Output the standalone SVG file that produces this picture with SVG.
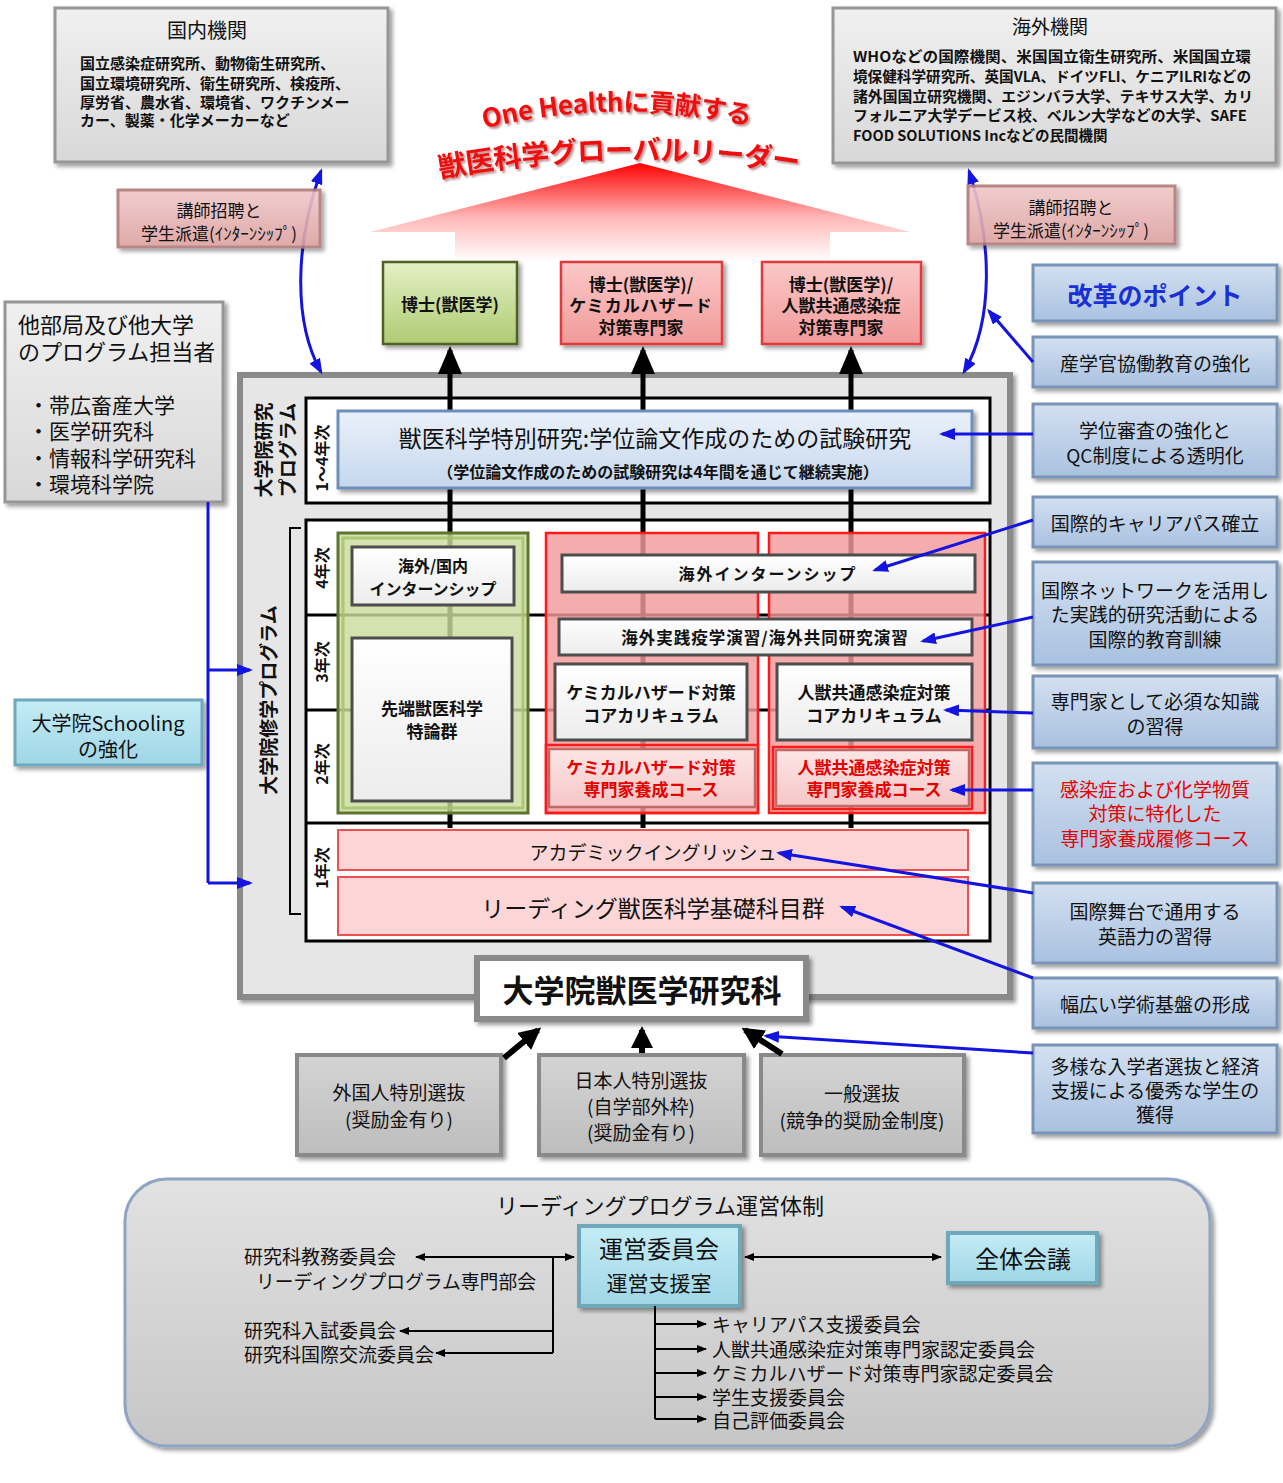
<svg xmlns="http://www.w3.org/2000/svg" width="1283" height="1483" viewBox="0 0 1283 1483">
<defs>
<style>
text { font-family: "Noto Sans CJK JP", "Noto Sans", sans-serif; dominant-baseline: central; text-anchor: middle; fill: #111; }
.b { font-weight: 700; }
.st { text-anchor: start; }
.gray { fill: url(#gGray); stroke: #969696; stroke-width: 3; filter: url(#sh); }
.sel { fill: url(#gSel); stroke: #8a8a8a; stroke-width: 4; filter: url(#sh); }
.inv { fill: url(#gInv); stroke: #b27a7a; stroke-width: 3; opacity: 0.9; filter: url(#sh); }
.rbox { fill: url(#gBlue); stroke: #7a94b6; stroke-width: 3; filter: url(#sh); }
.cyan { fill: url(#gCyan); stroke: #6fa8bb; stroke-width: 4; filter: url(#sh); }
.wbox { fill: url(#gWhite); stroke: #4d4d4d; stroke-width: 3; }
.pbox { fill: url(#gPinkL); stroke: #c06868; stroke-width: 2.5; }
.rcol { fill: #f29a9a; fill-opacity: 0.82; stroke: #ff1a1a; stroke-width: 2.5; }
.frame { fill: #ffffff; stroke: #000; stroke-width: 3; }
.div { stroke: #000; stroke-width: 3; }
.blue { stroke: #1414e0; stroke-width: 3; fill: none; }
.thin { stroke: #000; stroke-width: 2; fill: none; }
.rt { font-size: 19px; }
.lt { font-size: 19px; }
.sl { font-size: 19px; }
.red { fill: #e60000; }
</style>
<filter id="sh" x="-10%" y="-10%" width="125%" height="130%">
<feDropShadow dx="3" dy="3" stdDeviation="2" flood-color="#000" flood-opacity="0.4"/>
</filter>
<filter id="tsh" x="-10%" y="-20%" width="120%" height="150%">
<feDropShadow dx="2" dy="2" stdDeviation="1.2" flood-color="#600" flood-opacity="0.45"/>
</filter>
<linearGradient id="gGray" x1="0" y1="0" x2="0" y2="1"><stop offset="0" stop-color="#f0f0f0"/><stop offset="1" stop-color="#d8d8d8"/></linearGradient>
<linearGradient id="gSel" x1="0" y1="0" x2="0" y2="1"><stop offset="0" stop-color="#d4d4d4"/><stop offset="1" stop-color="#bdbdbd"/></linearGradient>
<linearGradient id="gInv" x1="0" y1="0" x2="0" y2="1"><stop offset="0" stop-color="#f0c8c8"/><stop offset="1" stop-color="#dca0a0"/></linearGradient>
<linearGradient id="gBlue" x1="0" y1="0" x2="0" y2="1"><stop offset="0" stop-color="#d3e0f1"/><stop offset="1" stop-color="#a9c1e0"/></linearGradient>
<linearGradient id="gCyan" x1="0" y1="0" x2="0" y2="1"><stop offset="0" stop-color="#c4ecf5"/><stop offset="1" stop-color="#9fd6e6"/></linearGradient>
<linearGradient id="gWhite" x1="0" y1="0" x2="0" y2="1"><stop offset="0" stop-color="#ffffff"/><stop offset="1" stop-color="#ececec"/></linearGradient>
<linearGradient id="gPinkL" x1="0" y1="0" x2="0" y2="1"><stop offset="0" stop-color="#fde6e6"/><stop offset="1" stop-color="#f6c6c6"/></linearGradient>
<linearGradient id="gGreenB" x1="0" y1="0" x2="0" y2="1"><stop offset="0" stop-color="#e4f0c6"/><stop offset="1" stop-color="#aecb72"/></linearGradient>
<linearGradient id="gRedB" x1="0" y1="0" x2="0" y2="1"><stop offset="0" stop-color="#fbc8c8"/><stop offset="1" stop-color="#f29a9a"/></linearGradient>
<linearGradient id="gLight" x1="0" y1="0" x2="0" y2="1"><stop offset="0" stop-color="#eaf1fa"/><stop offset="1" stop-color="#c5d7ee"/></linearGradient>
<linearGradient id="gBottom" x1="0" y1="0" x2="0" y2="1"><stop offset="0" stop-color="#e2e2e2"/><stop offset="1" stop-color="#c6c6c6"/></linearGradient>
<linearGradient id="gArrow" gradientUnits="userSpaceOnUse" x1="0" y1="163" x2="0" y2="262"><stop offset="0" stop-color="#ff0000"/><stop offset="0.55" stop-color="#ffb8b8"/><stop offset="1" stop-color="#ffffff"/></linearGradient>
<marker id="ab" viewBox="0 0 16 12" refX="13" refY="6" markerWidth="16" markerHeight="12" markerUnits="userSpaceOnUse" orient="auto-start-reverse"><path d="M0,0 L16,6 L0,12 z" fill="#1414e0"/></marker>
<marker id="ak" viewBox="0 0 10 8" refX="9" refY="4" markerWidth="10" markerHeight="8" markerUnits="userSpaceOnUse" orient="auto-start-reverse"><path d="M0,0 L10,4 L0,8 z" fill="#000"/></marker>
<marker id="abig" viewBox="0 0 28 24" refX="24" refY="12" markerWidth="28" markerHeight="24" markerUnits="userSpaceOnUse" orient="auto"><path d="M0,0 L28,12 L0,24 z" fill="#000"/></marker>
<marker id="amid" viewBox="0 0 22 22" refX="18" refY="11" markerWidth="22" markerHeight="22" markerUnits="userSpaceOnUse" orient="auto"><path d="M0,0 L22,11 L0,22 z" fill="#000"/></marker>
<path id="arc1" d="M 466 121 Q 617 80 768 117"/>
<path id="arc2" d="M 434 167 Q 618 132 804 161"/>
</defs>

<rect width="1283" height="1483" fill="#ffffff"/>

<!-- Title -->
<g id="title">
<polygon points="640,163 910,232 830,232 830,262 455,262 455,232 370,232" fill="url(#gArrow)"/>
<text class="b" font-size="26" style="fill:#f01010" filter="url(#tsh)"><textPath href="#arc1" startOffset="50%">One Healthに貢献する</textPath></text>
<text class="b" font-size="28" style="fill:#f01010" filter="url(#tsh)"><textPath href="#arc2" startOffset="50%">獣医科学グローバルリーダー</textPath></text>
</g>

<!-- 国内機関 -->
<g id="node-kokunai">
<rect class="gray" x="55" y="8" width="333" height="154"/>
<text x="207" y="29" font-size="20">国内機関</text>
<text class="st b" x="80" y="62" font-size="15">国立感染症研究所、動物衛生研究所、</text>
<text class="st b" x="80" y="82" font-size="15">国立環境研究所、衛生研究所、検疫所、</text>
<text class="st b" x="80" y="101" font-size="15">厚労省、農水省、環境省、ワクチンメー</text>
<text class="st b" x="80" y="119" font-size="15">カー、製薬・化学メーカーなど</text>
</g>

<!-- 海外機関 -->
<g id="node-kaigai">
<rect class="gray" x="833" y="8" width="443" height="155"/>
<text x="1050" y="25" font-size="19">海外機関</text>
<text class="st b" x="853" y="55" font-size="14.5" textLength="398" lengthAdjust="spacingAndGlyphs">WHOなどの国際機関、米国国立衛生研究所、米国国立環</text>
<text class="st b" x="853" y="75" font-size="14.5" textLength="398" lengthAdjust="spacingAndGlyphs">境保健科学研究所、英国VLA、ドイツFLI、ケニアILRIなどの</text>
<text class="st b" x="853" y="95" font-size="14.5" textLength="400" lengthAdjust="spacingAndGlyphs">諸外国国立研究機関、エジンバラ大学、テキサス大学、カリ</text>
<text class="st b" x="853" y="114" font-size="14.5" textLength="394" lengthAdjust="spacingAndGlyphs">フォルニア大学デービス校、ベルン大学などの大学、SAFE</text>
<text class="st b" x="853" y="134" font-size="14.5">FOOD SOLUTIONS Incなどの民間機関</text>
</g>

<!-- 他部局 -->
<g id="node-tabukyoku">
<rect class="gray" x="5" y="302" width="218" height="200"/>
<text class="st" x="18" y="323" font-size="22">他部局及び他大学</text>
<text class="st" x="18" y="350" font-size="22">のプログラム担当者</text>
<text class="st" x="28" y="404" font-size="21">・帯広畜産大学</text>
<text class="st" x="28" y="430" font-size="21">・医学研究科</text>
<text class="st" x="28" y="457" font-size="21">・情報科学研究科</text>
<text class="st" x="28" y="483" font-size="21">・環境科学院</text>
</g>

<!-- Schooling -->
<g id="node-schooling">
<rect class="cyan" x="15" y="700" width="187" height="65" style="stroke-width:3"/>
<text x="108" y="722" font-size="20">大学院Schooling</text>
<text x="108" y="748" font-size="20">の強化</text>
</g>

<!-- 博士 boxes -->
<g id="node-hakase1">
<rect x="383" y="262" width="134" height="82" fill="url(#gGreenB)" stroke="#4f6228" stroke-width="2.5" filter="url(#sh)"/>
<text class="b" x="450" y="303" font-size="17">博士(獣医学)</text>
</g>
<g id="node-hakase2">
<rect x="561" y="262" width="161" height="82" fill="url(#gRedB)" stroke="#e03a3a" stroke-width="2.5" filter="url(#sh)"/>
<text class="b" x="641" y="283" font-size="17">博士(獣医学)/</text>
<text class="b" x="641" y="304" font-size="17" letter-spacing="1">ケミカルハザード</text>
<text class="b" x="641" y="326" font-size="17">対策専門家</text>
</g>
<g id="node-hakase3">
<rect x="762" y="262" width="159" height="82" fill="url(#gRedB)" stroke="#e03a3a" stroke-width="2.5" filter="url(#sh)"/>
<text class="b" x="841" y="283" font-size="17">博士(獣医学)/</text>
<text class="b" x="841" y="304" font-size="17">人獣共通感染症</text>
<text class="b" x="841" y="326" font-size="17">対策専門家</text>
</g>

<!-- Big gray program box -->
<g id="node-program">
<rect x="240" y="375" width="770" height="622" fill="#e6e6e6" stroke="#8a8a8a" stroke-width="6" filter="url(#sh)"/>
<rect class="frame" x="306" y="398" width="684" height="105"/>
<rect class="frame" x="306" y="520" width="684" height="421"/>
<line class="div" x1="306" y1="615" x2="990" y2="615"/>
<line class="div" x1="306" y1="710" x2="990" y2="710"/>
<line class="div" x1="306" y1="823" x2="990" y2="823"/>
<text class="b" font-size="19" transform="translate(262,450) rotate(-90)">大学院研究</text>
<text class="b" font-size="19" transform="translate(286,450) rotate(-90)">プログラム</text>
<text class="b" font-size="16" transform="translate(321,458) rotate(-90)">1〜4年次</text>
<path class="thin" d="M 301 528 L 290 528 L 290 914 L 301 914"/>
<text class="b" font-size="19" transform="translate(267,700) rotate(-90)">大学院修学プログラム</text>
<text class="b" font-size="16" transform="translate(321,568) rotate(-90)">4年次</text>
<text class="b" font-size="16" transform="translate(321,662) rotate(-90)">3年次</text>
<text class="b" font-size="16" transform="translate(321,764) rotate(-90)">2年次</text>
<text class="b" font-size="16" transform="translate(321,868) rotate(-90)">1年次</text>
</g>

<!-- Thick black connectors (behind boxes) -->
<g id="connectors-main">
<line x1="450" y1="828" x2="450" y2="350" stroke="#000" stroke-width="5" marker-end="url(#abig)"/>
<line x1="643" y1="828" x2="643" y2="350" stroke="#000" stroke-width="5" marker-end="url(#abig)"/>
<line x1="851" y1="828" x2="851" y2="350" stroke="#000" stroke-width="5" marker-end="url(#abig)"/>
</g>

<!-- Research box -->
<g id="node-research">
<rect x="338" y="411" width="634" height="77" fill="url(#gLight)" stroke="#6f8fb8" stroke-width="3" filter="url(#sh)"/>
<text x="655" y="437" font-size="23">獣医科学特別研究:学位論文作成のための試験研究</text>
<text class="b" x="658" y="471" font-size="16">（学位論文作成のための試験研究は4年間を通じて継続実施）</text>
</g>

<!-- Green column -->
<g id="node-green-col">
<rect x="338" y="533" width="190" height="280" fill="#c9dc9c" fill-opacity="0.82" stroke="#5e7530" stroke-width="3"/>
<rect x="343" y="538" width="180" height="270" fill="none" stroke="#a5bf6a" stroke-width="3" opacity="0.8"/>
</g>
<g id="node-intern-dom">
<rect class="wbox" x="352" y="547" width="162" height="58"/>
<text class="b" x="433" y="565" font-size="16">海外/国内</text>
<text class="b" x="433" y="588" font-size="16">インターンシップ</text>
</g>
<g id="node-sentan">
<rect class="wbox" x="352" y="638" width="160" height="163"/>
<text class="b" x="432" y="707" font-size="17">先端獣医科学</text>
<text class="b" x="432" y="730" font-size="17">特論群</text>
</g>

<!-- Red columns -->
<g id="node-red-col-left"><rect class="rcol" x="546" y="533" width="212" height="280"/></g>
<g id="node-red-col-right"><rect class="rcol" x="769" y="533" width="216" height="280"/></g>

<g id="node-intern-abroad">
<rect class="wbox" x="562" y="555" width="413" height="37"/>
<text class="b" x="768" y="573" font-size="16" letter-spacing="2">海外インターンシップ</text>
</g>
<g id="node-jissen">
<rect class="wbox" x="559" y="619" width="413" height="36"/>
<text class="b" x="765" y="637" font-size="16.5" letter-spacing="1">海外実践疫学演習/海外共同研究演習</text>
</g>
<g id="node-chem-core">
<rect class="wbox" x="555" y="664" width="192" height="76"/>
<text class="b" x="651" y="691" font-size="17">ケミカルハザード対策</text>
<text class="b" x="651" y="714" font-size="17">コアカリキュラム</text>
</g>
<g id="node-zoo-core">
<rect class="wbox" x="777" y="664" width="195" height="76"/>
<text class="b" x="874" y="691" font-size="17">人獣共通感染症対策</text>
<text class="b" x="874" y="714" font-size="17">コアカリキュラム</text>
</g>
<g id="node-chem-course">
<rect x="546" y="745" width="212" height="68" fill="none" stroke="#ff1a1a" stroke-width="2.5"/>
<rect class="pbox" x="549" y="749" width="206" height="58"/>
<text class="b red" x="651" y="766" font-size="17">ケミカルハザード対策</text>
<text class="b red" x="651" y="788" font-size="17">専門家養成コース</text>
</g>
<g id="node-zoo-course">
<rect x="773" y="747" width="199" height="62" fill="none" stroke="#ff1a1a" stroke-width="2.5"/>
<rect class="pbox" x="776" y="750" width="193" height="56"/>
<text class="b red" x="874" y="766" font-size="17">人獣共通感染症対策</text>
<text class="b red" x="874" y="788" font-size="17">専門家養成コース</text>
</g>

<!-- 1年次 boxes -->
<g id="node-academic-english">
<rect x="338" y="830" width="630" height="40" fill="#fcd6d6" stroke="#f05050" stroke-width="2"/>
<text x="653" y="851" font-size="19">アカデミックイングリッシュ</text>
</g>
<g id="node-leading-basic">
<rect x="338" y="877" width="630" height="58" fill="#fcd6d6" stroke="#f05050" stroke-width="2"/>
<text x="653" y="907" font-size="23">リーディング獣医科学基礎科目群</text>
</g>

<!-- 大学院獣医学研究科 -->
<g id="node-kenkyuka">
<rect x="477" y="958" width="329" height="61" fill="#ffffff" stroke="#8a8a8a" stroke-width="6" filter="url(#sh)"/>
<text class="b" x="642" y="988" font-size="31">大学院獣医学研究科</text>
</g>

<!-- Selection boxes -->
<g id="node-sel-foreign">
<rect class="sel" x="297" y="1055" width="204" height="100"/>
<text class="sl" x="399" y="1091">外国人特別選抜</text>
<text class="sl" x="399" y="1118">(奨励金有り)</text>
</g>
<g id="node-sel-japan">
<rect class="sel" x="539" y="1055" width="205" height="100"/>
<text class="sl" x="641" y="1079">日本人特別選抜</text>
<text class="sl" x="641" y="1105">(自学部外枠)</text>
<text class="sl" x="641" y="1131">(奨励金有り)</text>
</g>
<g id="node-sel-general">
<rect class="sel" x="761" y="1055" width="203" height="100"/>
<text class="sl" x="862" y="1092">一般選抜</text>
<text class="sl" x="862" y="1119">(競争的奨励金制度)</text>
</g>

<!-- Right column -->
<g id="node-kaikaku">
<rect class="rbox" x="1033" y="265" width="244" height="56"/>
<text class="b" x="1155" y="294" font-size="25" style="fill:#1a2fd6">改革のポイント</text>
</g>
<g id="node-p1"><rect class="rbox" x="1033" y="337" width="244" height="50"/><text class="rt" x="1155" y="362">産学官協働教育の強化</text></g>
<g id="node-p2"><rect class="rbox" x="1033" y="404" width="244" height="73"/><text class="rt" x="1155" y="429">学位審査の強化と</text><text class="rt" x="1155" y="454">QC制度による透明化</text></g>
<g id="node-p3"><rect class="rbox" x="1033" y="497" width="244" height="50"/><text class="rt" x="1155" y="522">国際的キャリアパス確立</text></g>
<g id="node-p4"><rect class="rbox" x="1033" y="562" width="244" height="103"/><text class="rt" x="1155" y="589">国際ネットワークを活用し</text><text class="rt" x="1155" y="613">た実践的研究活動による</text><text class="rt" x="1155" y="638">国際的教育訓練</text></g>
<g id="node-p5"><rect class="rbox" x="1033" y="676" width="244" height="72"/><text class="rt" x="1155" y="700">専門家として必須な知識</text><text class="rt" x="1155" y="725">の習得</text></g>
<g id="node-p6"><rect class="rbox" x="1033" y="763" width="244" height="102"/><text class="rt red" x="1155" y="788">感染症および化学物質</text><text class="rt red" x="1155" y="812">対策に特化した</text><text class="rt red" x="1155" y="837">専門家養成履修コース</text></g>
<g id="node-p7"><rect class="rbox" x="1033" y="883" width="244" height="80"/><text class="rt" x="1155" y="910">国際舞台で通用する</text><text class="rt" x="1155" y="935">英語力の習得</text></g>
<g id="node-p8"><rect class="rbox" x="1033" y="978" width="244" height="50"/><text class="rt" x="1155" y="1003">幅広い学術基盤の形成</text></g>
<g id="node-p9"><rect class="rbox" x="1033" y="1045" width="244" height="88"/><text class="rt" x="1155" y="1065">多様な入学者選抜と経済</text><text class="rt" x="1155" y="1089">支援による優秀な学生の</text><text class="rt" x="1155" y="1113">獲得</text></g>

<!-- Bottom management -->
<g id="node-management">
<rect x="125" y="1179" width="1085" height="267" rx="42" ry="42" fill="url(#gBottom)" stroke="#8fa3c2" stroke-width="3" filter="url(#sh)"/>
<text x="660" y="1204" font-size="22">リーディングプログラム運営体制</text>
<text class="st lt" x="244" y="1255">研究科教務委員会</text>
<text class="st lt" x="256" y="1280" textLength="280" lengthAdjust="spacingAndGlyphs">リーディングプログラム専門部会</text>
<text class="st lt" x="244" y="1329">研究科入試委員会</text>
<text class="st lt" x="244" y="1353">研究科国際交流委員会</text>
<text class="st lt" x="712" y="1323">キャリアパス支援委員会</text>
<text class="st lt" x="712" y="1348">人獣共通感染症対策専門家認定委員会</text>
<text class="st lt" x="712" y="1372">ケミカルハザード対策専門家認定委員会</text>
<text class="st lt" x="712" y="1396">学生支援委員会</text>
<text class="st lt" x="712" y="1419">自己評価委員会</text>
</g>
<g id="node-unei">
<rect class="cyan" x="579" y="1226" width="161" height="80"/>
<text x="659" y="1247" font-size="24">運営委員会</text>
<text x="659" y="1282" font-size="21">運営支援室</text>
</g>
<g id="node-zentai">
<rect class="cyan" x="948" y="1233" width="149" height="50"/>
<text x="1023" y="1257" font-size="24">全体会議</text>
</g>

<!-- Connectors -->
<g id="connectors">
<path class="blue" d="M 208 502 L 208 883"/>
<line class="blue" x1="208" y1="670" x2="250" y2="670" marker-end="url(#ab)"/>
<line class="blue" x1="208" y1="883" x2="250" y2="883" marker-end="url(#ab)"/>
<path class="blue" d="M 321 171 C 296 240, 292 320, 321 372" marker-start="url(#ab)" marker-end="url(#ab)"/>
<path class="blue" d="M 969 171 C 992 240, 994 320, 964 372" marker-start="url(#ab)" marker-end="url(#ab)"/>
<line class="blue" x1="1033" y1="362" x2="989" y2="311" marker-end="url(#ab)"/>
<line class="blue" x1="1033" y1="434" x2="942" y2="434" marker-end="url(#ab)"/>
<line class="blue" x1="1033" y1="520" x2="875" y2="570" marker-end="url(#ab)"/>
<line class="blue" x1="1033" y1="617" x2="923" y2="641" marker-end="url(#ab)"/>
<line class="blue" x1="1033" y1="713" x2="946" y2="710" marker-end="url(#ab)"/>
<line class="blue" x1="1033" y1="790" x2="952" y2="790" marker-end="url(#ab)"/>
<line class="blue" x1="1033" y1="893" x2="779" y2="853" marker-end="url(#ab)"/>
<line class="blue" x1="1033" y1="978" x2="842" y2="907" marker-end="url(#ab)"/>
<line class="blue" x1="1033" y1="1053" x2="766" y2="1036" marker-end="url(#ab)"/>
<line x1="504" y1="1058" x2="538" y2="1030" stroke="#000" stroke-width="6" marker-end="url(#amid)"/>
<line x1="642" y1="1053" x2="642" y2="1030" stroke="#000" stroke-width="6" marker-end="url(#amid)"/>
<line x1="782" y1="1054" x2="745" y2="1030" stroke="#000" stroke-width="6" marker-end="url(#amid)"/>
<line class="thin" x1="416" y1="1257" x2="574" y2="1257" marker-start="url(#ak)" marker-end="url(#ak)"/>
<path class="thin" d="M 553 1257 L 553 1353"/>
<line class="thin" x1="553" y1="1331" x2="400" y2="1331" marker-end="url(#ak)"/>
<line class="thin" x1="553" y1="1353" x2="436" y2="1353" marker-end="url(#ak)"/>
<line class="thin" x1="745" y1="1257" x2="941" y2="1257" marker-start="url(#ak)" marker-end="url(#ak)"/>
<path class="thin" d="M 655 1306 L 655 1419"/>
<line class="thin" x1="655" y1="1324" x2="706" y2="1324" marker-end="url(#ak)"/>
<line class="thin" x1="655" y1="1349" x2="706" y2="1349" marker-end="url(#ak)"/>
<line class="thin" x1="655" y1="1373" x2="706" y2="1373" marker-end="url(#ak)"/>
<line class="thin" x1="655" y1="1397" x2="706" y2="1397" marker-end="url(#ak)"/>
<line class="thin" x1="655" y1="1419" x2="706" y2="1419" marker-end="url(#ak)"/>
</g>

<!-- Invitation boxes (over curved arrows) -->
<g id="node-invite-left">
<rect class="inv" x="118" y="190" width="202" height="57"/>
<text x="219" y="209" font-size="17">講師招聘と</text>
<text x="219" y="232" font-size="17">学生派遣(ｲﾝﾀｰﾝｼｯﾌﾟ)</text>
</g>
<g id="node-invite-right">
<rect class="inv" x="968" y="186" width="207" height="58"/>
<text x="1071" y="206" font-size="17">講師招聘と</text>
<text x="1071" y="229" font-size="17">学生派遣(ｲﾝﾀｰﾝｼｯﾌﾟ)</text>
</g>
</svg>
